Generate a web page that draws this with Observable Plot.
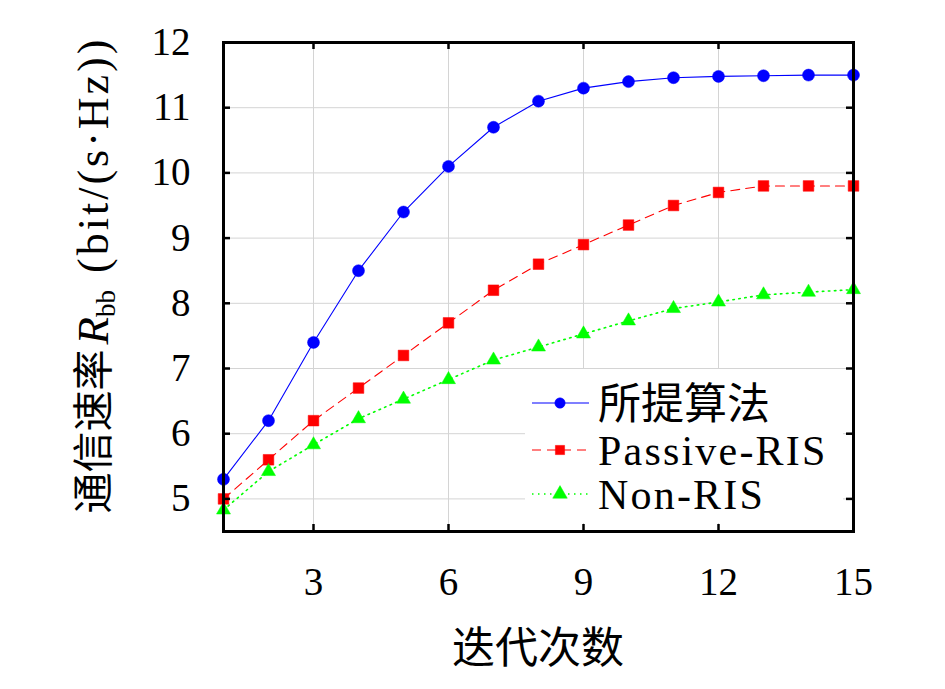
<!DOCTYPE html>
<html><head><meta charset="utf-8">
<script src="https://cdn.jsdelivr.net/npm/d3@7"></script>
<script src="https://cdn.jsdelivr.net/npm/@observablehq/plot@0.6"></script>
<style>body{margin:0;background:#fff;}</style>
</head><body><div id="chart"></div>
<script>
const iterations = [1,2,3,4,5,6,7,8,9,10,11,12,13,14,15];
const proposed = [5.3,6.2,7.4,8.5,9.4,10.1,10.7,11.1,11.3,11.4,11.46,11.48,11.49,11.5,11.5];
const passive  = [5.0,5.6,6.2,6.7,7.2,7.7,8.2,8.6,8.9,9.2,9.5,9.7,9.8,9.8,9.8];
const nonRis   = [4.83,5.42,5.83,6.23,6.53,6.83,7.13,7.33,7.53,7.73,7.92,8.02,8.13,8.17,8.21];
const seriesNames = ["所提算法","Passive-RIS","Non-RIS"];
const xTicks = [3,6,9,12,15];
const yTicks = [5,6,7,8,9,10,11,12];
const xGrid = [3,6,9,12];
const yGrid = [5,6,7,8,9,10,11];
const xLabel = "迭代次数";

const W=945,H=689,mL=223,mR=92,mT=42,mB=158;
const innerW=W-mL-mR, innerH=H-mT-mB, tk=7;
const tbl = vals => iterations.map((x,i)=>({x, y: vals[i]}));
const dProp = tbl(proposed), dPass = tbl(passive), dNon = tbl(nonRis);
const styles = [
  {color:"#0000ff", dash:"none", sym:"circle", r:6, sw:1.1},
  {color:"#ff0000", dash:"9,6", sym:"square", r:6, sw:1.1},
  {color:"#00ff00", dash:"1.5,4.5", sym:"triangle", r:5.2, sw:1.6}
];
const datas=[dProp,dPass,dNon];

const marks = [
  Plot.gridX(xGrid,{stroke:"#d4d4d4",strokeOpacity:1,strokeWidth:1}),
  Plot.gridY(yGrid,{stroke:"#d4d4d4",strokeOpacity:1,strokeWidth:1}),
];
datas.forEach((d,i)=>{
  const s=styles[i];
  marks.push(Plot.line(d,{x:"x",y:"y",stroke:s.color,strokeWidth:s.sw,strokeDasharray:s.dash}));
});
datas.forEach((d,i)=>{
  const s=styles[i];
  marks.push(Plot.dot(d,{x:"x",y:"y",symbol:()=>s.sym,r:s.r,fill:s.color,stroke:s.color,strokeWidth:0.5}));
});
marks.push(
  Plot.frame({stroke:"black",strokeWidth:3}),
  Plot.tickX(xTicks,{x:d=>d,insetTop:innerH-tk,stroke:"black",strokeWidth:2.5}),
  Plot.tickX(xTicks,{x:d=>d,insetBottom:innerH-tk,stroke:"black",strokeWidth:2.5}),
  Plot.tickY(yTicks,{y:d=>d,insetRight:innerW-tk,stroke:"black",strokeWidth:2.5}),
  Plot.tickY(yTicks,{y:d=>d,insetLeft:innerW-tk,stroke:"black",strokeWidth:2.5}),
  Plot.axisX(xTicks,{tickSize:0,tickPadding:36,fontSize:39,fontFamily:"Liberation Serif",label:null,fill:"black",tickFormat:d=>String(d)}),
  Plot.axisY(yTicks,{tickSize:0,tickPadding:33,fontSize:39,fontFamily:"Liberation Serif",label:null,fill:"black",tickFormat:d=>String(d)})
);

const chart = Plot.plot({
  width:W,height:H,marginLeft:mL,marginRight:mR,marginTop:mT,marginBottom:mB,
  x:{domain:[1,15]}, y:{domain:[4.5,12]},
  symbol:{type:"identity"},
  style:{background:"white",color:"black",overflow:"visible"},
  marks
});
document.getElementById("chart").appendChild(chart);

const svg = d3.select(chart);
// legend
const lg = svg.append("g").attr("text-anchor","start");
lg.append("rect").attr("x",525).attr("y",369).attr("width",318).attr("height",154)
  .style("fill","#ffffff").style("stroke","none");
const rowsY=[403,450,494];
const sym = {circle:d3.symbolCircle,square:d3.symbolSquare,triangle:d3.symbolTriangle};
const legR=[5.2,5.2,5.4];
seriesNames.forEach((name,i)=>{
  const s=styles[i], y=rowsY[i];
  lg.append("line").attr("x1",532).attr("x2",589).attr("y1",y).attr("y2",y)
    .style("stroke",s.color).style("stroke-width",s.sw).style("stroke-dasharray",s.dash);
  lg.append("path").attr("transform",`translate(560,${y})`)
    .attr("d",d3.symbol(sym[s.sym], Math.PI*legR[i]*legR[i])())
    .style("fill",s.color).style("stroke",s.color).style("stroke-width",0.5);
  const t=lg.append("text").attr("x",598).attr("text-anchor","start").style("fill","black").text(name);
  if(i===0){ t.attr("y",y+16).attr("font-family","Noto Sans CJK SC").attr("font-size",43); }
  else { t.attr("y",y+15).attr("font-family","Liberation Serif").attr("font-size",42).attr("letter-spacing",2.2); }
});
// x label
svg.append("text").attr("x",mL+innerW/2).attr("y",663).attr("text-anchor","middle")
  .attr("font-family","Noto Sans CJK SC").attr("font-size",43).style("fill","black").text(xLabel);
// y label
const yl = svg.append("text").attr("transform","translate(108,275) rotate(-90)")
  .attr("text-anchor","middle").style("fill","black");
yl.append("tspan").attr("font-family","Noto Sans CJK SC").attr("font-size",41).text("通信速率");
yl.append("tspan").attr("font-family","Liberation Serif").attr("font-style","italic").attr("font-size",45).attr("dx",5).text("R");
yl.append("tspan").attr("font-family","Liberation Serif").attr("font-size",27).attr("dy",7).text("bb");
yl.append("tspan").attr("font-family","Liberation Serif").attr("font-size",44).attr("dy",-7).attr("dx",17).attr("letter-spacing",3).text("(bit/(s·Hz))");
</script></body></html>
